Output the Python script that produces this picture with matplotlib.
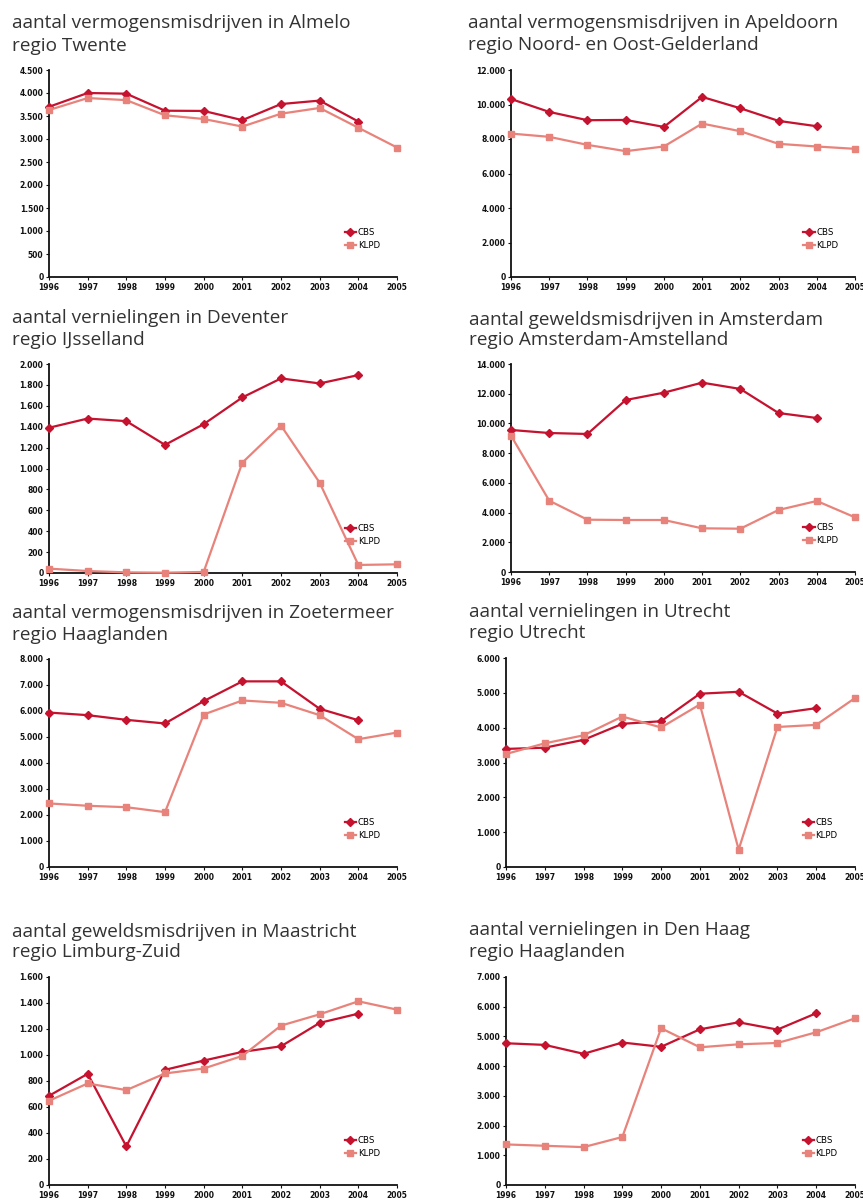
import matplotlib
matplotlib.use("Agg")
import matplotlib.pyplot as plt
from matplotlib.ticker import FixedLocator, FuncFormatter

years = [1996, 1997, 1998, 1999, 2000, 2001, 2002, 2003, 2004, 2005]

titles = [
    ("aantal vermogensmisdrijven in Almelo", "regio Twente"),
    ("aantal vermogensmisdrijven in Apeldoorn", "regio Noord- en Oost-Gelderland"),
    ("aantal vernielingen in Deventer", "regio IJsselland"),
    ("aantal geweldsmisdrijven in Amsterdam", "regio Amsterdam-Amstelland"),
    ("aantal vermogensmisdrijven in Zoetermeer", "regio Haaglanden"),
    ("aantal vernielingen in Utrecht", "regio Utrecht"),
    ("aantal geweldsmisdrijven in Maastricht", "regio Limburg-Zuid"),
    ("aantal vernielingen in Den Haag", "regio Haaglanden"),
]

# CBS: 1996-2004, KLPD: 1996-2005
cbs_almelo = [3700, 4000, 3985, 3615, 3610, 3410, 3760, 3835, 3380]
klpd_almelo = [3630, 3890, 3845, 3515, 3435, 3270, 3550, 3675, 3245, 2815]

cbs_apeldoorn = [10320, 9570, 9090, 9105, 8700, 10440, 9780, 9050, 8740]
klpd_apeldoorn = [8315, 8125, 7660, 7295, 7565, 8895, 8450, 7720, 7565, 7430]

cbs_deventer = [1390, 1478, 1453, 1226, 1424, 1680, 1862, 1814, 1894]
klpd_deventer = [42, 19, 6, 3, 10, 1056, 1411, 864, 77, 83]

cbs_amsterdam = [9560, 9355, 9290, 11575, 12070, 12745, 12320, 10700, 10365]
klpd_amsterdam = [9180, 4800, 3520, 3500, 3500, 2940, 2915, 4175, 4780, 3680]

cbs_zoetermeer = [5940, 5840, 5660, 5520, 6380, 7140, 7140, 6085, 5645]
klpd_zoetermeer = [2445, 2355, 2300, 2110, 5865, 6405, 6315, 5840, 4915, 5170]

cbs_utrecht = [3390, 3425, 3650, 4110, 4185, 4975, 5030, 4405, 4560]
klpd_utrecht = [3245, 3550, 3780, 4320, 4005, 4665, 500, 4020, 4080, 4850]

cbs_maastricht = [686, 855, 297, 886, 957, 1024, 1067, 1247, 1318]
klpd_maastricht = [648, 781, 730, 858, 896, 993, 1226, 1313, 1413, 1349]

cbs_denhaag = [4770, 4715, 4415, 4795, 4650, 5240, 5475, 5230, 5780]
klpd_denhaag = [1365, 1320, 1275, 1615, 5275, 4635, 4735, 4780, 5140, 5610]

cbs_series = [cbs_almelo, cbs_apeldoorn, cbs_deventer, cbs_amsterdam,
              cbs_zoetermeer, cbs_utrecht, cbs_maastricht, cbs_denhaag]
klpd_series = [klpd_almelo, klpd_apeldoorn, klpd_deventer, klpd_amsterdam,
               klpd_zoetermeer, klpd_utrecht, klpd_maastricht, klpd_denhaag]

y_max = [4500, 12000, 2000, 14000, 8000, 6000, 1600, 7000]
y_step = [500, 2000, 200, 2000, 1000, 1000, 200, 1000]

series_names = ["CBS", "KLPD"]

W, H = 863, 1202
fig = plt.figure(figsize=(W / 100, H / 100), dpi=100)
fig.patch.set_facecolor("white")

# axes boxes in pixels: left, right, top, bottom
boxes = [
    (49, 397, 70, 277), (511, 855, 70, 277),
    (49, 397, 364, 573), (511, 855, 364, 572),
    (49, 397, 659, 867), (506, 855, 658, 867),
    (49, 397, 977, 1185), (506, 855, 977, 1185),
]
title_pos = [
    (12, 28, 51), (468, 28, 50),
    (12, 323, 345), (469, 325, 345),
    (12, 618, 640), (469, 617, 638),
    (12, 937, 957), (469, 935, 957),
]

CBS_C = "#c4122f"
KLPD_C = "#e8837b"
TITLE_FONT = "Open Sans"

def fmt(v, pos=None):
    return f"{int(round(v)):,}".replace(",", ".")

for i in range(8):
    l, r, t, b = boxes[i]
    ax = fig.add_axes([l / W, 1 - b / H, (r - l) / W, (b - t) / H])
    ax.plot(years[:len(cbs_series[i])], cbs_series[i], color=CBS_C, lw=1.6,
            marker="D", ms=3.8, label=series_names[0], clip_on=False, zorder=3)
    ax.plot(years[:len(klpd_series[i])], klpd_series[i], color=KLPD_C, lw=1.6,
            marker="s", ms=3.8, label=series_names[1], clip_on=False, zorder=4)
    ax.set_xlim(years[0], years[-1])
    ax.set_ylim(0, y_max[i])
    ax.xaxis.set_major_locator(FixedLocator(years))
    ax.yaxis.set_major_locator(FixedLocator(list(range(0, y_max[i] + 1, y_step[i]))))
    ax.yaxis.set_major_formatter(FuncFormatter(fmt))
    for s in ["top", "right"]:
        ax.spines[s].set_visible(False)
    for s in ["left", "bottom"]:
        ax.spines[s].set_linewidth(1.3)
        ax.spines[s].set_color("#111111")
    ax.tick_params(axis="both", labelsize=5.5, length=2, width=0.8,
                   colors="#111111", pad=2)
    for lab in ax.get_xticklabels() + ax.get_yticklabels():
        lab.set_fontweight("bold")
        lab.set_fontfamily("DejaVu Sans")
    ax.set_facecolor("none")
    leg = ax.legend(loc="upper left", bbox_to_anchor=(0.85, 0.235), frameon=False,
                    fontsize=6.2, handlelength=1.3, handletextpad=0.2,
                    labelspacing=0.45, borderpad=0, borderaxespad=0)
    tx, y1, y2 = title_pos[i]
    fig.text(tx / W, 1 - y1 / H, titles[i][0], fontsize=13.7, color="#333333",
             family=TITLE_FONT, va="baseline", ha="left")
    fig.text(tx / W, 1 - y2 / H, titles[i][1], fontsize=13.7, color="#333333",
             family=TITLE_FONT, va="baseline", ha="left")

fig.savefig("out.png", dpi=100, facecolor="white")
